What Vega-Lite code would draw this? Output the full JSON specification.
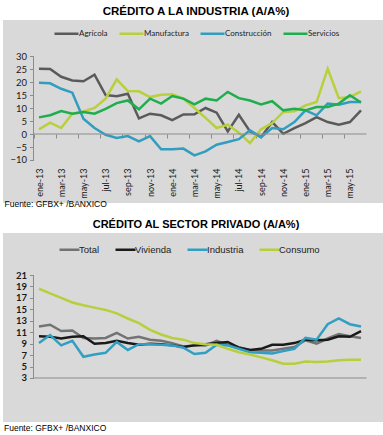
{
"$schema":"https://vega.github.io/schema/vega-lite/v6.json",
"background":"white",
"padding":{"left":3,"top":5,"right":0,"bottom":0},
"autosize":{"type":"pad"},
"spacing":11,
"title":{"text":"Fuente: GFBX+ /BANXICO","orient":"bottom","anchor":"start","frame":"group","offset":2,"font":"Liberation Sans","fontSize":8.5,"fontWeight":"normal","color":"#000000","dx":1},
"resolve":{"scale":{"x":"independent","y":"independent","color":"independent"},"legend":{"color":"independent"}},
"config":{
 "view":{"stroke":null,"fill":"#d9d9d9"},
 "axis":{"grid":false,"domainColor":"#8c8c8c","tickColor":"#8c8c8c","labelFont":"Lato","labelColor":"#1a1a1a","labelOverlap":false},
 "title":{"font":"Liberation Sans","fontWeight":"bold","color":"#000000","anchor":"middle","frame":"group","offset":3}
},
"datasets":{
"industria":[
{"mes":"ene-13","serie":"Agrícola","valor":25.1},{"mes":"feb-13","serie":"Agrícola","valor":25},{"mes":"mar-13","serie":"Agrícola","valor":22},{"mes":"abr-13","serie":"Agrícola","valor":20.6},{"mes":"may-13","serie":"Agrícola","valor":20.3},{"mes":"jun-13","serie":"Agrícola","valor":22.8},{"mes":"jul-13","serie":"Agrícola","valor":15},{"mes":"ago-13","serie":"Agrícola","valor":14.5},{"mes":"sep-13","serie":"Agrícola","valor":15.5},{"mes":"oct-13","serie":"Agrícola","valor":6},{"mes":"nov-13","serie":"Agrícola","valor":7.8},{"mes":"dic-13","serie":"Agrícola","valor":7.2},{"mes":"ene-14","serie":"Agrícola","valor":5.3},{"mes":"feb-14","serie":"Agrícola","valor":7.5},{"mes":"mar-14","serie":"Agrícola","valor":7.6},{"mes":"abr-14","serie":"Agrícola","valor":10},{"mes":"may-14","serie":"Agrícola","valor":8.2},{"mes":"jun-14","serie":"Agrícola","valor":1},{"mes":"jul-14","serie":"Agrícola","valor":7.4},{"mes":"ago-14","serie":"Agrícola","valor":1},{"mes":"sep-14","serie":"Agrícola","valor":-1.2},{"mes":"oct-14","serie":"Agrícola","valor":4.6},{"mes":"nov-14","serie":"Agrícola","valor":0.1},{"mes":"dic-14","serie":"Agrícola","valor":2.3},{"mes":"ene-15","serie":"Agrícola","valor":4.2},{"mes":"feb-15","serie":"Agrícola","valor":6.5},{"mes":"mar-15","serie":"Agrícola","valor":4.6},{"mes":"abr-15","serie":"Agrícola","valor":3.6},{"mes":"may-15","serie":"Agrícola","valor":4.6},{"mes":"jun-15","serie":"Agrícola","valor":9.1},
{"mes":"ene-13","serie":"Manufactura","valor":1.8},{"mes":"feb-13","serie":"Manufactura","valor":4.4},{"mes":"mar-13","serie":"Manufactura","valor":2.3},{"mes":"abr-13","serie":"Manufactura","valor":7.8},{"mes":"may-13","serie":"Manufactura","valor":8.7},{"mes":"jun-13","serie":"Manufactura","valor":10},{"mes":"jul-13","serie":"Manufactura","valor":13.6},{"mes":"ago-13","serie":"Manufactura","valor":21},{"mes":"sep-13","serie":"Manufactura","valor":16.5},{"mes":"oct-13","serie":"Manufactura","valor":16.4},{"mes":"nov-13","serie":"Manufactura","valor":14.2},{"mes":"dic-13","serie":"Manufactura","valor":15.1},{"mes":"ene-14","serie":"Manufactura","valor":15.3},{"mes":"feb-14","serie":"Manufactura","valor":13.6},{"mes":"mar-14","serie":"Manufactura","valor":10},{"mes":"abr-14","serie":"Manufactura","valor":6.2},{"mes":"may-14","serie":"Manufactura","valor":2.3},{"mes":"jun-14","serie":"Manufactura","valor":3.6},{"mes":"jul-14","serie":"Manufactura","valor":0.5},{"mes":"ago-14","serie":"Manufactura","valor":-3.5},{"mes":"sep-14","serie":"Manufactura","valor":1.8},{"mes":"oct-14","serie":"Manufactura","valor":4.2},{"mes":"nov-14","serie":"Manufactura","valor":8.5},{"mes":"dic-14","serie":"Manufactura","valor":8.7},{"mes":"ene-15","serie":"Manufactura","valor":11},{"mes":"feb-15","serie":"Manufactura","valor":12.3},{"mes":"mar-15","serie":"Manufactura","valor":25.1},{"mes":"abr-15","serie":"Manufactura","valor":13.8},{"mes":"may-15","serie":"Manufactura","valor":14.2},{"mes":"jun-15","serie":"Manufactura","valor":16.4},
{"mes":"ene-13","serie":"Construcción","valor":19.7},{"mes":"feb-13","serie":"Construcción","valor":19.5},{"mes":"mar-13","serie":"Construcción","valor":17.4},{"mes":"abr-13","serie":"Construcción","valor":15.9},{"mes":"may-13","serie":"Construcción","valor":5.9},{"mes":"jun-13","serie":"Construcción","valor":2.3},{"mes":"jul-13","serie":"Construcción","valor":-0.3},{"mes":"ago-13","serie":"Construcción","valor":-1.5},{"mes":"sep-13","serie":"Construcción","valor":-0.8},{"mes":"oct-13","serie":"Construcción","valor":-2.8},{"mes":"nov-13","serie":"Construcción","valor":-0.8},{"mes":"dic-13","serie":"Construcción","valor":-5.9},{"mes":"ene-14","serie":"Construcción","valor":-5.9},{"mes":"feb-14","serie":"Construcción","valor":-5.6},{"mes":"mar-14","serie":"Construcción","valor":-8.2},{"mes":"abr-14","serie":"Construcción","valor":-6.7},{"mes":"may-14","serie":"Construcción","valor":-4.1},{"mes":"jun-14","serie":"Construcción","valor":-3.1},{"mes":"jul-14","serie":"Construcción","valor":-2},{"mes":"ago-14","serie":"Construcción","valor":1.4},{"mes":"sep-14","serie":"Construcción","valor":-1.2},{"mes":"oct-14","serie":"Construcción","valor":2.3},{"mes":"nov-14","serie":"Construcción","valor":1.8},{"mes":"dic-14","serie":"Construcción","valor":4.6},{"mes":"ene-15","serie":"Construcción","valor":9.1},{"mes":"feb-15","serie":"Construcción","valor":7.2},{"mes":"mar-15","serie":"Construcción","valor":11.7},{"mes":"abr-15","serie":"Construcción","valor":11.3},{"mes":"may-15","serie":"Construcción","valor":12.3},{"mes":"jun-15","serie":"Construcción","valor":12.3},
{"mes":"ene-13","serie":"Servicios","valor":6.4},{"mes":"feb-13","serie":"Servicios","valor":7.2},{"mes":"mar-13","serie":"Servicios","valor":8.8},{"mes":"abr-13","serie":"Servicios","valor":7.8},{"mes":"may-13","serie":"Servicios","valor":8.5},{"mes":"jun-13","serie":"Servicios","valor":7.8},{"mes":"jul-13","serie":"Servicios","valor":9.7},{"mes":"ago-13","serie":"Servicios","valor":11.9},{"mes":"sep-13","serie":"Servicios","valor":12.9},{"mes":"oct-13","serie":"Servicios","valor":9.5},{"mes":"nov-13","serie":"Servicios","valor":13.6},{"mes":"dic-13","serie":"Servicios","valor":11.7},{"mes":"ene-14","serie":"Servicios","valor":14.6},{"mes":"feb-14","serie":"Servicios","valor":13.6},{"mes":"mar-14","serie":"Servicios","valor":11.4},{"mes":"abr-14","serie":"Servicios","valor":13.6},{"mes":"may-14","serie":"Servicios","valor":12.9},{"mes":"jun-14","serie":"Servicios","valor":16.2},{"mes":"jul-14","serie":"Servicios","valor":13.8},{"mes":"ago-14","serie":"Servicios","valor":12.9},{"mes":"sep-14","serie":"Servicios","valor":11.4},{"mes":"oct-14","serie":"Servicios","valor":12.6},{"mes":"nov-14","serie":"Servicios","valor":9.1},{"mes":"dic-14","serie":"Servicios","valor":9.7},{"mes":"ene-15","serie":"Servicios","valor":9.1},{"mes":"feb-15","serie":"Servicios","valor":10.4},{"mes":"mar-15","serie":"Servicios","valor":10.4},{"mes":"abr-15","serie":"Servicios","valor":11.7},{"mes":"may-15","serie":"Servicios","valor":14.9},{"mes":"jun-15","serie":"Servicios","valor":12.1}
],
"privado":[
{"mes":"ene-13","serie":"Total","valor":12},{"mes":"feb-13","serie":"Total","valor":12.3},{"mes":"mar-13","serie":"Total","valor":11.2},{"mes":"abr-13","serie":"Total","valor":11.3},{"mes":"may-13","serie":"Total","valor":10},{"mes":"jun-13","serie":"Total","valor":9.9},{"mes":"jul-13","serie":"Total","valor":10},{"mes":"ago-13","serie":"Total","valor":10.9},{"mes":"sep-13","serie":"Total","valor":9.9},{"mes":"oct-13","serie":"Total","valor":10.2},{"mes":"nov-13","serie":"Total","valor":9.7},{"mes":"dic-13","serie":"Total","valor":9.5},{"mes":"ene-14","serie":"Total","valor":9.1},{"mes":"feb-14","serie":"Total","valor":8.5},{"mes":"mar-14","serie":"Total","valor":8.7},{"mes":"abr-14","serie":"Total","valor":8.7},{"mes":"may-14","serie":"Total","valor":9.5},{"mes":"jun-14","serie":"Total","valor":8.8},{"mes":"jul-14","serie":"Total","valor":8.4},{"mes":"ago-14","serie":"Total","valor":7.9},{"mes":"sep-14","serie":"Total","valor":7.8},{"mes":"oct-14","serie":"Total","valor":7.8},{"mes":"nov-14","serie":"Total","valor":8.1},{"mes":"dic-14","serie":"Total","valor":8.4},{"mes":"ene-15","serie":"Total","valor":9.6},{"mes":"feb-15","serie":"Total","valor":9},{"mes":"mar-15","serie":"Total","valor":9.9},{"mes":"abr-15","serie":"Total","valor":10.7},{"mes":"may-15","serie":"Total","valor":10.3},{"mes":"jun-15","serie":"Total","valor":10},
{"mes":"ene-13","serie":"Vivienda","valor":10.3},{"mes":"feb-13","serie":"Vivienda","valor":10.2},{"mes":"mar-13","serie":"Vivienda","valor":9.9},{"mes":"abr-13","serie":"Vivienda","valor":10.2},{"mes":"may-13","serie":"Vivienda","valor":10.3},{"mes":"jun-13","serie":"Vivienda","valor":9},{"mes":"jul-13","serie":"Vivienda","valor":9.1},{"mes":"ago-13","serie":"Vivienda","valor":9.5},{"mes":"sep-13","serie":"Vivienda","valor":9.1},{"mes":"oct-13","serie":"Vivienda","valor":8.8},{"mes":"nov-13","serie":"Vivienda","valor":9},{"mes":"dic-13","serie":"Vivienda","valor":8.9},{"mes":"ene-14","serie":"Vivienda","valor":8.7},{"mes":"feb-14","serie":"Vivienda","valor":8.4},{"mes":"mar-14","serie":"Vivienda","valor":8.7},{"mes":"abr-14","serie":"Vivienda","valor":8.9},{"mes":"may-14","serie":"Vivienda","valor":9.1},{"mes":"jun-14","serie":"Vivienda","valor":9.3},{"mes":"jul-14","serie":"Vivienda","valor":8.3},{"mes":"ago-14","serie":"Vivienda","valor":7.9},{"mes":"sep-14","serie":"Vivienda","valor":8.1},{"mes":"oct-14","serie":"Vivienda","valor":8.8},{"mes":"nov-14","serie":"Vivienda","valor":8.8},{"mes":"dic-14","serie":"Vivienda","valor":9.1},{"mes":"ene-15","serie":"Vivienda","valor":9.7},{"mes":"feb-15","serie":"Vivienda","valor":9.6},{"mes":"mar-15","serie":"Vivienda","valor":9.7},{"mes":"abr-15","serie":"Vivienda","valor":10.3},{"mes":"may-15","serie":"Vivienda","valor":10.2},{"mes":"jun-15","serie":"Vivienda","valor":11.2},
{"mes":"ene-13","serie":"Industria","valor":9.1},{"mes":"feb-13","serie":"Industria","valor":10.5},{"mes":"mar-13","serie":"Industria","valor":8.7},{"mes":"abr-13","serie":"Industria","valor":9.5},{"mes":"may-13","serie":"Industria","valor":6.7},{"mes":"jun-13","serie":"Industria","valor":7.1},{"mes":"jul-13","serie":"Industria","valor":7.4},{"mes":"ago-13","serie":"Industria","valor":9.3},{"mes":"sep-13","serie":"Industria","valor":7.9},{"mes":"oct-13","serie":"Industria","valor":8.9},{"mes":"nov-13","serie":"Industria","valor":8.9},{"mes":"dic-13","serie":"Industria","valor":8.8},{"mes":"ene-14","serie":"Industria","valor":8.7},{"mes":"feb-14","serie":"Industria","valor":8.3},{"mes":"mar-14","serie":"Industria","valor":7.2},{"mes":"abr-14","serie":"Industria","valor":7.4},{"mes":"may-14","serie":"Industria","valor":8.8},{"mes":"jun-14","serie":"Industria","valor":8.7},{"mes":"jul-14","serie":"Industria","valor":8.1},{"mes":"ago-14","serie":"Industria","valor":7.5},{"mes":"sep-14","serie":"Industria","valor":7.4},{"mes":"oct-14","serie":"Industria","valor":7.3},{"mes":"nov-14","serie":"Industria","valor":7.7},{"mes":"dic-14","serie":"Industria","valor":8.1},{"mes":"ene-15","serie":"Industria","valor":10},{"mes":"feb-15","serie":"Industria","valor":9.7},{"mes":"mar-15","serie":"Industria","valor":12.4},{"mes":"abr-15","serie":"Industria","valor":13.4},{"mes":"may-15","serie":"Industria","valor":12.4},{"mes":"jun-15","serie":"Industria","valor":12},
{"mes":"ene-13","serie":"Consumo","valor":18.6},{"mes":"feb-13","serie":"Consumo","valor":17.8},{"mes":"mar-13","serie":"Consumo","valor":17},{"mes":"abr-13","serie":"Consumo","valor":16.2},{"mes":"may-13","serie":"Consumo","valor":15.7},{"mes":"jun-13","serie":"Consumo","valor":15.3},{"mes":"jul-13","serie":"Consumo","valor":14.9},{"mes":"ago-13","serie":"Consumo","valor":14.3},{"mes":"sep-13","serie":"Consumo","valor":13.4},{"mes":"oct-13","serie":"Consumo","valor":12.6},{"mes":"nov-13","serie":"Consumo","valor":11.4},{"mes":"dic-13","serie":"Consumo","valor":10.6},{"mes":"ene-14","serie":"Consumo","valor":10},{"mes":"feb-14","serie":"Consumo","valor":9.7},{"mes":"mar-14","serie":"Consumo","valor":9.1},{"mes":"abr-14","serie":"Consumo","valor":8.9},{"mes":"may-14","serie":"Consumo","valor":8.8},{"mes":"jun-14","serie":"Consumo","valor":8.1},{"mes":"jul-14","serie":"Consumo","valor":7.5},{"mes":"ago-14","serie":"Consumo","valor":7.1},{"mes":"sep-14","serie":"Consumo","valor":6.6},{"mes":"oct-14","serie":"Consumo","valor":6.1},{"mes":"nov-14","serie":"Consumo","valor":5.5},{"mes":"dic-14","serie":"Consumo","valor":5.5},{"mes":"ene-15","serie":"Consumo","valor":5.9},{"mes":"feb-15","serie":"Consumo","valor":5.8},{"mes":"mar-15","serie":"Consumo","valor":5.9},{"mes":"abr-15","serie":"Consumo","valor":6.1},{"mes":"may-15","serie":"Consumo","valor":6.2},{"mes":"jun-15","serie":"Consumo","valor":6.2}
]
},
"vconcat":[
{
 "title":{"text":"CRÉDITO A LA INDUSTRIA (A/A%)","fontSize":11.5,"dx":3},
 "width":380,"height":183,
 "resolve":{"axis":{"x":"independent"}},
 "layer":[
  {
   "data":{"name":"industria"},
   "mark":{"type":"line","strokeWidth":2.5},
   "encoding":{
    "x":{"field":"mes","type":"ordinal",
     "scale":{"type":"point","padding":0,"range":[36,358],"domain":["ene-13","feb-13","mar-13","abr-13","may-13","jun-13","jul-13","ago-13","sep-13","oct-13","nov-13","dic-13","ene-14","feb-14","mar-14","abr-14","may-14","jun-14","jul-14","ago-14","sep-14","oct-14","nov-14","dic-14","ene-15","feb-15","mar-15","abr-15","may-15","jun-15"]},
     "axis":{"orient":"bottom","offset":-37,"domain":false,"ticks":false,"tickSize":0,"labelPadding":2,"labelAngle":-90,"labelAlign":"right","labelBaseline":"middle","labelFontSize":9,"labelOverlap":false,
      "values":["ene-13","mar-13","may-13","jul-13","sep-13","nov-13","ene-14","mar-14","may-14","jul-14","sep-14","nov-14","ene-15","mar-15","may-15"],
      "title":"Fuente: GFBX+ /BANXICO","titleX":1,"titleY":37,"titleAlign":"left","titleBaseline":"middle","titleFont":"Liberation Sans","titleFontSize":8.5,"titleFontWeight":"normal","titleColor":"#000000"}},
    "y":{"field":"valor","type":"quantitative",
     "scale":{"domain":[-26.54,43.85],"nice":false,"zero":false},
     "axis":{"values":[-10,-5,0,5,10,15,20,25,30],"offset":-30.5,"domain":false,"tickSize":4,"labelPadding":3,"labelFontSize":9.5,"labelOverlap":false,"title":null}},
    "color":{"field":"serie","type":"nominal",
     "scale":{"domain":["Agrícola","Manufactura","Construcción","Servicios"],"range":["#5a5a5a","#b9cf3c","#339dbf","#1fae4e"]},
     "legend":{"orient":"none","legendX":50,"legendY":0,"direction":"horizontal","title":null,"symbolType":"stroke","symbolSize":576,"symbolStrokeWidth":2.5,"labelFont":"Lato","labelFontSize":8,"labelColor":"#222222","columnPadding":6,"labelOffset":-1}}
   }
  },
  {
   "data":{"values":[{}]},
   "mark":{"type":"rule","color":"#8c8c8c","strokeWidth":1,"xOffset":-5.5,"x2Offset":5.5},
   "encoding":{
    "x":{"datum":"ene-13","type":"ordinal",
     "axis":{"orient":"bottom","offset":-69,"labels":false,"domain":false,"ticks":true,"tickSize":4,"tickOffset":-5.5,"title":null,
      "values":["ene-13","mar-13","may-13","jul-13","sep-13","nov-13","ene-14","mar-14","may-14","jul-14","sep-14","nov-14","ene-15","mar-15","may-15"]}},
    "x2":{"datum":"jun-15"},
    "y":{"datum":0,"type":"quantitative",
     "axis":{"values":[-10,-5,0,5,10,15,20,25,30],"offset":-30.5,"domain":false,"tickSize":4,"labelPadding":3,"labelFontSize":9.5,"labelOverlap":false,"title":null}}
   }
  },
  {
   "data":{"values":[{}]},
   "mark":{"type":"rule","color":"#8c8c8c","strokeWidth":1,"xOffset":-5.5},
   "encoding":{
    "x":{"datum":"ene-13","type":"ordinal","axis":null},
    "y":{"datum":-10,"type":"quantitative",
     "axis":{"values":[-10,-5,0,5,10,15,20,25,30],"offset":-30.5,"domain":false,"tickSize":4,"labelPadding":3,"labelFontSize":9.5,"labelOverlap":false,"title":null}},
    "y2":{"datum":30}
   }
  }
 ]
},
{
 "title":{"text":"CRÉDITO AL SECTOR PRIVADO (A/A%)","fontSize":11,"dx":3},
 "width":380,"height":189,
 "layer":[
  {
   "data":{"name":"privado"},
   "mark":{"type":"line","strokeWidth":2.5},
   "encoding":{
    "x":{"field":"mes","type":"ordinal",
     "scale":{"type":"point","padding":0,"range":[36,358],"domain":["ene-13","feb-13","mar-13","abr-13","may-13","jun-13","jul-13","ago-13","sep-13","oct-13","nov-13","dic-13","ene-14","feb-14","mar-14","abr-14","may-14","jun-14","jul-14","ago-14","sep-14","oct-14","nov-14","dic-14","ene-15","feb-15","mar-15","abr-15","may-15","jun-15"]},
     "axis":{"orient":"bottom","offset":-44,"domain":false,"ticks":true,"tickSize":4,"tickOffset":-5.5,"labelOffset":5.5,"labelPadding":2,"labelAngle":-90,"labelAlign":"right","labelBaseline":"middle","labelFontSize":9,"labelOverlap":false,
      "values":["ene-13","mar-13","may-13","jul-13","sep-13","nov-13","ene-14","mar-14","may-14","jul-14","sep-14","nov-14","ene-15","mar-15","may-15"],
      "title":null}},
    "y":{"field":"valor","type":"quantitative",
     "scale":{"domain":[-4.69,28.34],"nice":false,"zero":false},
     "axis":{"values":[3,5,7,9,11,13,15,17,19,21],"offset":-30.5,"domain":false,"tickSize":4,"labelPadding":3,"labelFontSize":9.5,"labelFontWeight":"bold","labelOverlap":false,"title":null}},
    "color":{"field":"serie","type":"nominal",
     "scale":{"domain":["Total","Vivienda","Industria","Consumo"],"range":["#737373","#1a1a1a","#319fc2","#b8cf3d"]},
     "legend":{"orient":"none","legendX":55,"legendY":5,"direction":"horizontal","title":null,"symbolType":"stroke","symbolSize":400,"symbolStrokeWidth":2.5,"labelFont":"Liberation Sans","labelFontSize":9.5,"labelColor":"#222222","columnPadding":10,"labelOffset":-2}}
   }
  },
  {
   "data":{"values":[{}]},
   "mark":{"type":"rule","color":"#8c8c8c","strokeWidth":1,"xOffset":-5.5,"x2Offset":5.5},
   "encoding":{
    "x":{"datum":"ene-13","type":"ordinal","axis":null},
    "x2":{"datum":"jun-15"},
    "y":{"datum":3,"type":"quantitative",
     "axis":{"values":[3,5,7,9,11,13,15,17,19,21],"offset":-30.5,"domain":false,"tickSize":4,"labelPadding":3,"labelFontSize":9.5,"labelFontWeight":"bold","labelOverlap":false,"title":null}}
   }
  },
  {
   "data":{"values":[{}]},
   "mark":{"type":"rule","color":"#8c8c8c","strokeWidth":1,"xOffset":-5.5},
   "encoding":{
    "x":{"datum":"ene-13","type":"ordinal","axis":null},
    "y":{"datum":3,"type":"quantitative",
     "axis":{"values":[3,5,7,9,11,13,15,17,19,21],"offset":-30.5,"domain":false,"tickSize":4,"labelPadding":3,"labelFontSize":9.5,"labelFontWeight":"bold","labelOverlap":false,"title":null}},
    "y2":{"datum":21}
   }
  }
 ]
}
]
}
